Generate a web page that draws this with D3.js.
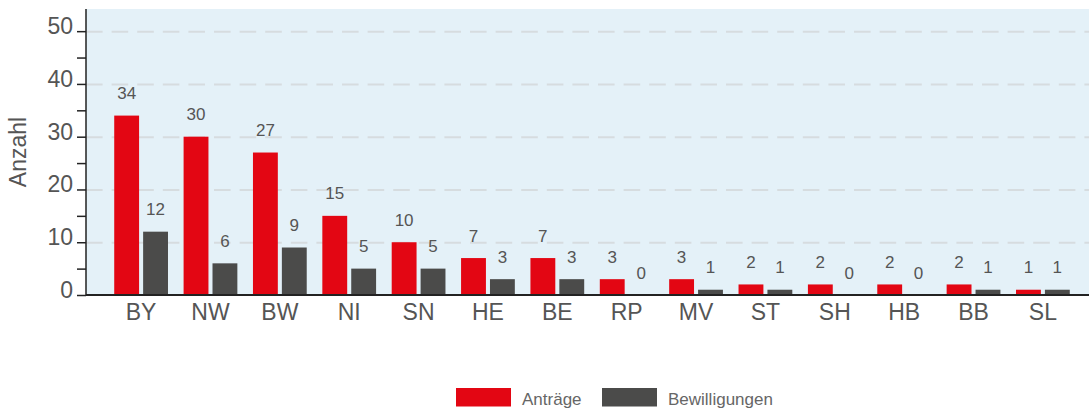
<!DOCTYPE html>
<html>
<head>
<meta charset="utf-8">
<script src="https://cdn.jsdelivr.net/npm/d3@7"></script>
<style>
  body { margin: 0; background: #fff; }
  svg { display: block; font-family: "Liberation Sans", Arial, sans-serif; }
</style>
</head>
<body>
<svg id="svg1" width="1089" height="410"></svg>
<script>
const laender = ['BY', 'NW', 'BW', 'NI', 'SN', 'HE', 'BE', 'RP', 'MV', 'ST', 'SH', 'HB', 'BB', 'SL'];
const antraege = [34, 30, 27, 15, 10, 7, 7, 3, 3, 2, 2, 2, 2, 1];
const bewilligungen = [12, 6, 9, 5, 5, 3, 3, 0, 1, 1, 0, 0, 1, 1];
const seriesNames = ['Anträge', 'Bewilligungen'];
const seriesColors = ['#e30613', '#4b4b4a'];
const majorTicks = [0, 10, 20, 30, 40, 50];
const minorTicks = [5, 15, 25, 35, 45];

const svg1 = d3.select('#svg1');
const width1 = +svg1.attr('width');

const plot = { left: 86, top: 9, bottom: 295, right: width1 };

const data = laender.map((land, i) => ({ land, values: [antraege[i], bewilligungen[i]] }));

/* x scale: groups per Bundesland, right end is cut off in the original */
const xScale = d3.scaleBand()
  .domain(laender)
  .range([plot.left + 1, 1097])
  .paddingInner(0)
  .paddingOuter(0.28);

const xSub = d3.scaleBand()
  .domain([0, 1])
  .range([0, xScale.bandwidth()])
  .paddingInner(0.14)
  .paddingOuter(0.27);

const yScale = d3.scaleLinear()
  .domain([0, 54.2])
  .range([plot.bottom, plot.top]);

/* background */
svg1.append('rect')
  .attr('x', plot.left)
  .attr('y', plot.top)
  .attr('width', plot.right - plot.left)
  .attr('height', plot.bottom - plot.top)
  .attr('fill', '#e4f1f8');

/* dashed grid lines */
const grid = svg1.append('g')
  .attr('transform', `translate(${plot.left},0)`)
  .call(d3.axisRight(yScale).tickValues(majorTicks.filter(d => d > 0)).tickSize(plot.right - plot.left).tickFormat(''));
grid.select('.domain').remove();
grid.selectAll('.tick line')
  .attr('stroke', '#d6dcdf')
  .attr('stroke-width', 2)
  .attr('stroke-dasharray', '16.6,9');

/* bars */
const groups = svg1.selectAll('.group').data(data)
  .enter().append('g')
    .attr('class', 'group')
    .attr('transform', d => `translate(${xScale(d.land)},0)`);

groups.selectAll('rect').data(d => d.values)
  .enter().append('rect')
    .attr('x', (d, i) => xSub(i))
    .attr('y', d => yScale(d))
    .attr('width', xSub.bandwidth())
    .attr('height', d => yScale(0) - yScale(d))
    .attr('fill', (d, i) => seriesColors[i]);

/* value labels above bars */
groups.selectAll('text').data(d => d.values)
  .enter().append('text')
    .attr('x', (d, i) => xSub(i) + xSub.bandwidth() / 2)
    .attr('y', d => yScale(d) - 16.5)
    .attr('text-anchor', 'middle')
    .attr('font-size', 17)
    .attr('fill', '#555')
    .text(d => d);

/* y axis with minor ticks */
const yAxisG = svg1.append('g')
  .attr('transform', `translate(${plot.left},0)`)
  .call(d3.axisLeft(yScale).tickValues(majorTicks).tickSize(9).tickPadding(4));
yAxisG.select('.domain')
  .attr('d', `M0,${plot.top}V${plot.bottom}`)
  .attr('stroke', '#222')
  .attr('stroke-width', 1.5);
yAxisG.selectAll('.tick line').attr('stroke', '#222').attr('stroke-width', 1.5);
yAxisG.selectAll('.tick text')
  .attr('font-size', 23)
  .attr('fill', '#555')
  .attr('dy', '0.1em');

const minorG = svg1.append('g')
  .attr('transform', `translate(${plot.left},0)`)
  .call(d3.axisLeft(yScale).tickValues(minorTicks).tickSize(9).tickFormat(''));
minorG.select('.domain').remove();
minorG.selectAll('.tick line').attr('stroke', '#222').attr('stroke-width', 1.5);

/* x axis */
const xAxisG = svg1.append('g')
  .attr('transform', `translate(0,${plot.bottom})`)
  .call(d3.axisBottom(xScale).tickSize(0).tickPadding(9));
xAxisG.select('.domain')
  .attr('d', `M${plot.left},0H${plot.right}`)
  .attr('stroke', '#222')
  .attr('stroke-width', 2);
xAxisG.selectAll('.tick text')
  .attr('font-size', 23)
  .attr('fill', '#555');

/* axis title */
svg1.append('text')
  .attr('transform', 'translate(26,152) rotate(-90)')
  .attr('text-anchor', 'middle')
  .attr('font-size', 23)
  .attr('fill', '#555')
  .text('Anzahl');

/* legend */
const legendX = [456, 602];
const legend = svg1.selectAll('.legend').data(seriesNames)
  .enter().append('g')
    .attr('class', 'legend')
    .attr('transform', (d, i) => `translate(${legendX[i]},388)`);
legend.append('rect')
  .attr('width', 55)
  .attr('height', 18.5)
  .attr('fill', (d, i) => seriesColors[i]);
legend.append('text')
  .attr('x', 66)
  .attr('y', 16.5)
  .attr('font-size', 17)
  .attr('fill', '#666')
  .text(d => d);
</script>
</body>
</html>
